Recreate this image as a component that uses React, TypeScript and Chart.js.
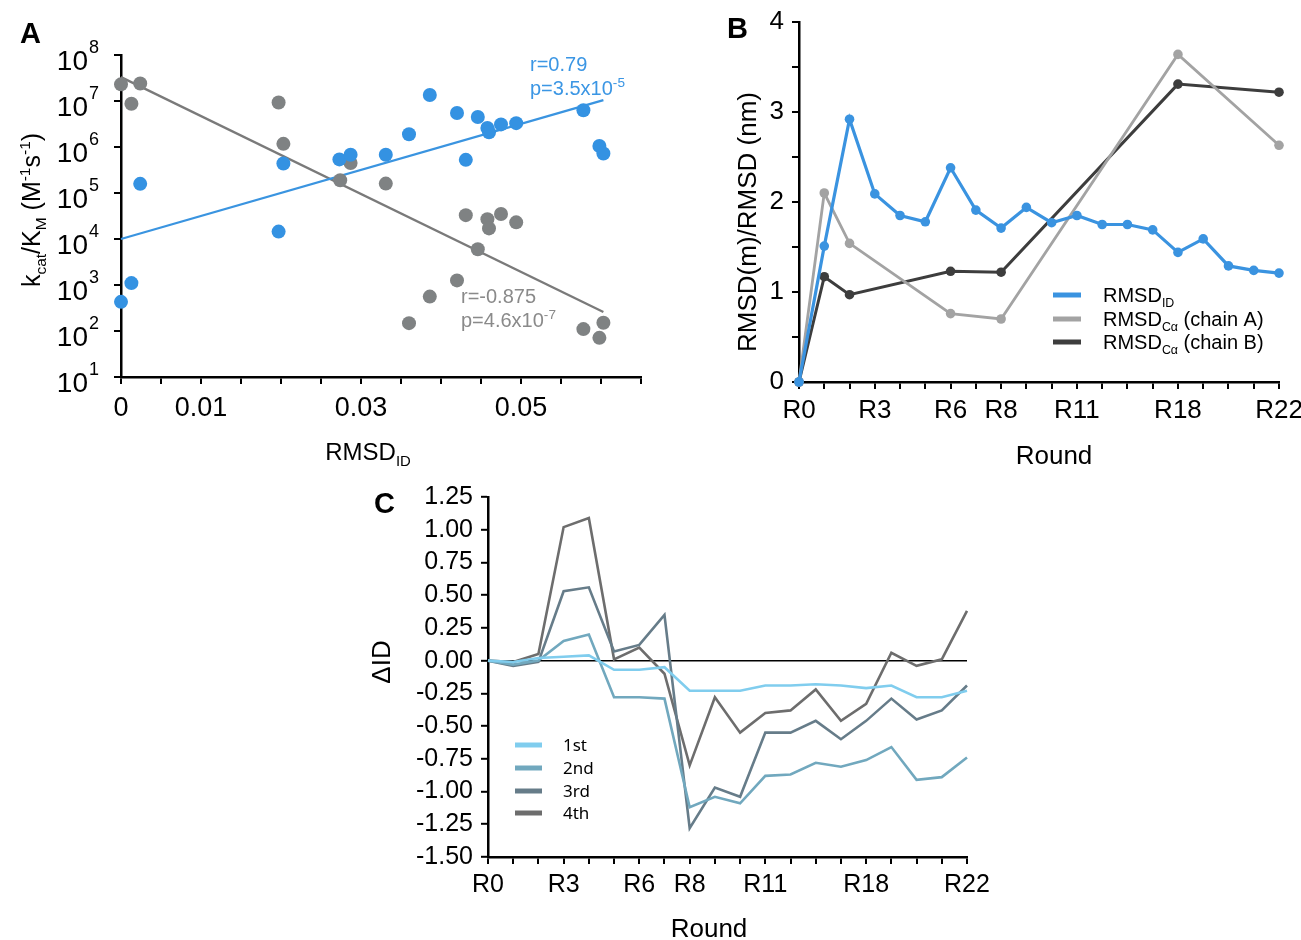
import React, { useEffect, useRef } from "react";
import { Chart, registerables } from "chart.js";
Chart.register(...registerables);

const PAGE_W = 1301;
const PAGE_H = 940;
const SANS = '"Liberation Sans", Arial, Helvetica, sans-serif';
const LEGEND_FONT = '"Noto Sans", "DejaVu Sans", sans-serif';

// ---------------- Panel A data ----------------
const aBlueX = [0, 0.0013, 0.0024, 0.0197, 0.0203, 0.0273, 0.0287, 0.0331, 0.036, 0.0386, 0.042, 0.0431, 0.0446, 0.0458, 0.046, 0.0475, 0.0494, 0.0578, 0.0598, 0.0603];
const aBlueY = [430, 1100, 158000, 14500, 437000, 537000, 676000, 676000, 1.9e6, 1.35e7, 5.5e6, 525000, 4.5e6, 2.6e6, 2.1e6, 3.1e6, 3.3e6, 6.3e6, 1.05e6, 7.2e5];
const aGrayX = [0, 0.0013, 0.0024, 0.0197, 0.0203, 0.0274, 0.0287, 0.0331, 0.036, 0.0386, 0.042, 0.0431, 0.0446, 0.0458, 0.046, 0.0475, 0.0494, 0.0578, 0.0598, 0.0603];
const aGrayY = [2.3e7, 8.7e6, 2.4e7, 9.3e6, 1.17e6, 1.9e5, 4.5e5, 1.6e5, 148, 560, 1260, 3.3e4, 6000, 2.7e4, 1.7e4, 3.5e4, 2.3e4, 110, 71, 151];
const aBlueFitX = [0, 0.0603];
const aBlueFitY = [1.0e4, 1.05e7];
const aGrayFitX = [0, 0.0603];
const aGrayFitY = [3.3e7, 2.6e2];
const aXTicks = [0, 0.005, 0.01, 0.015, 0.02, 0.025, 0.03, 0.035, 0.04, 0.045, 0.05, 0.055, 0.06, 0.065];
const aXLabelValues = [0, 0.01, 0.03, 0.05];
const aXLabelTexts = ["0", "0.01", "0.03", "0.05"];
const aYExponents = [1, 2, 3, 4, 5, 6, 7, 8];

// ---------------- Panel B data ----------------
const rounds = ["R0", "", "", "R3", "", "", "R6", "", "R8", "", "", "R11", "", "", "", "R18", "", "", "", "R22"];
const rmsdID = [0, 1.51, 2.92, 2.09, 1.85, 1.78, 2.38, 1.91, 1.71, 1.94, 1.77, 1.85, 1.75, 1.75, 1.69, 1.44, 1.59, 1.29, 1.24, 1.21];
const chainA = [0, 2.1, 1.54, null, null, null, 0.76, null, 0.7, null, null, null, null, null, null, 3.64, null, null, null, 2.63];
const chainB = [0, 1.17, 0.97, null, null, null, 1.23, null, 1.22, null, null, null, null, null, null, 3.31, null, null, null, 3.22];
const bYTicks = [0, 0.5, 1, 1.5, 2, 2.5, 3, 3.5, 4];

// ---------------- Panel C data ----------------
const first = [0, -0.01, 0.02, 0.03, 0.04, -0.07, -0.07, -0.05, -0.23, -0.23, -0.23, -0.19, -0.19, -0.18, -0.19, -0.21, -0.19, -0.28, -0.28, -0.23];
const second = [0, -0.03, 0.0, 0.15, 0.2, -0.28, -0.28, -0.29, -1.12, -1.04, -1.09, -0.88, -0.87, -0.78, -0.81, -0.76, -0.66, -0.91, -0.89, -0.74];
const third = [0, -0.04, -0.01, 0.53, 0.56, 0.07, 0.12, 0.35, -1.28, -0.97, -1.04, -0.55, -0.55, -0.46, -0.6, -0.46, -0.29, -0.45, -0.38, -0.19];
const fourth = [0, -0.01, 0.05, 1.02, 1.09, 0.01, 0.1, -0.1, -0.8, -0.28, -0.55, -0.4, -0.38, -0.22, -0.46, -0.33, 0.06, -0.04, 0.01, 0.38];
const cYTicks = [-1.5, -1.25, -1.0, -0.75, -0.5, -0.25, 0, 0.25, 0.5, 0.75, 1.0, 1.25];
const cSeriesNames = ["1st", "2nd", "3rd", "4th"];
const cColors = ["#80cdee", "#71a8be", "#667c89", "#6d6d6d"];

// ---------------- helpers ----------------
type Seg = { t: string; k?: "sub" | "sup" };

function richText(
  ctx: CanvasRenderingContext2D,
  segs: Seg[],
  x: number,
  y: number,
  size: number,
  color: string,
  align: "left" | "center" | "right" = "left",
  rot = 0,
  family = SANS,
  weight = "normal",
  smallRatio = 0.62
) {
  ctx.save();
  ctx.translate(x, y);
  ctx.rotate(rot);
  ctx.fillStyle = color;
  ctx.textBaseline = "alphabetic";
  ctx.textAlign = "left";
  const small = size * smallRatio;
  const widths = segs.map((s) => {
    ctx.font = `${weight} ${s.k ? small : size}px ${family}`;
    return ctx.measureText(s.t).width;
  });
  const total = widths.reduce((a, b) => a + b, 0);
  let cx = align === "center" ? -total / 2 : align === "right" ? -total : 0;
  segs.forEach((s, i) => {
    ctx.font = `${weight} ${s.k ? small : size}px ${family}`;
    const dy = s.k === "sub" ? size * 0.24 : s.k === "sup" ? -size * 0.42 : 0;
    ctx.fillText(s.t, cx, dy);
    cx += widths[i];
  });
  ctx.restore();
}

function fixSize(size: number) {
  return (scale: any) => {
    if (scale.isHorizontal()) scale.height = size;
    else scale.width = size;
    scale.paddingLeft = 0;
    scale.paddingRight = 0;
    scale.paddingTop = 0;
    scale.paddingBottom = 0;
  };
}

function axisLook(tickLen: number) {
  return {
    grid: {
      display: true,
      drawOnChartArea: false,
      drawTicks: true,
      tickLength: tickLen,
      color: "#000",
      tickColor: "#000",
      lineWidth: 2,
      tickWidth: 2,
    },
    border: { display: true, color: "#000", width: 2.5 },
  };
}

function basePadding(L: number, T: number, R: number, B: number, yW: number, xH: number) {
  return { left: L - yW, top: T, right: PAGE_W - R, bottom: PAGE_H - B - xH };
}

const commonOpts = {
  responsive: false,
  maintainAspectRatio: false,
  animation: false as const,
  devicePixelRatio: 1,
  events: [] as any[],
};

// ---------------- chart configs ----------------
function configA(): any {
  const L = 121, T = 55, R = 641, B = 377, YW = 60, XH = 50;
  const textPlugin = {
    id: "textA",
    afterDraw(chart: any) {
      const ctx = chart.ctx as CanvasRenderingContext2D;
      const ys = chart.scales.y;
      aYExponents.forEach((e) => {
        const py = ys.getPixelForValue(Math.pow(10, e));
        ctx.save();
        ctx.fillStyle = "#000";
        ctx.textBaseline = "alphabetic";
        ctx.font = `28px ${SANS}`;
        ctx.textAlign = "right";
        ctx.fillText("10", 88, py + 15);
        ctx.font = `18px ${SANS}`;
        ctx.textAlign = "left";
        ctx.fillText(String(e), 89, py - 2);
        ctx.restore();
      });
      richText(ctx, [{ t: "A" }], 20, 43, 29, "#000", "left", 0, SANS, "bold");
      richText(
        ctx,
        [
          { t: "k" },
          { t: "cat", k: "sub" },
          { t: "/K" },
          { t: "M", k: "sub" },
          { t: " (M" },
          { t: "-1", k: "sup" },
          { t: "s" },
          { t: "-1", k: "sup" },
          { t: ")" },
        ],
        40,
        210,
        25,
        "#000",
        "center",
        -Math.PI / 2
      );
      richText(ctx, [{ t: "RMSD" }, { t: "ID", k: "sub" }], 368, 460, 24, "#000", "center");
      const blue = "#3b96e4";
      const gray = "#8a8a8a";
      richText(ctx, [{ t: "r=0.79" }], 530, 71, 20, blue);
      richText(ctx, [{ t: "p=3.5x10" }, { t: "-5", k: "sup" }], 530, 95, 20, blue, "left", 0, SANS, "normal", 0.68);
      richText(ctx, [{ t: "r=-0.875" }], 461, 303, 20, gray);
      richText(ctx, [{ t: "p=4.6x10" }, { t: "-7", k: "sup" }], 461, 327, 20, gray, "left", 0, SANS, "normal", 0.68);
    },
  };
  return {
    type: "scatter",
    data: {
      datasets: [
        {
          label: "blue",
          data: aBlueX.map((x, i) => ({ x, y: aBlueY[i] })),
          backgroundColor: "#3492e2",
          borderWidth: 0,
          pointRadius: 7,
          clip: false,
        },
        {
          label: "gray",
          data: aGrayX.map((x, i) => ({ x, y: aGrayY[i] })),
          backgroundColor: "#7f8283",
          borderWidth: 0,
          pointRadius: 7,
          clip: false,
        },
        {
          label: "blueFit",
          data: aBlueFitX.map((x, i) => ({ x, y: aBlueFitY[i] })),
          showLine: true,
          borderColor: "#3a94e0",
          borderWidth: 2.3,
          pointRadius: 0,
          clip: false,
        },
        {
          label: "grayFit",
          data: aGrayFitX.map((x, i) => ({ x, y: aGrayFitY[i] })),
          showLine: true,
          borderColor: "#7a7a7a",
          borderWidth: 2.3,
          pointRadius: 0,
          clip: false,
        },
      ],
    },
    options: {
      ...commonOpts,
      layout: { padding: basePadding(L, T, R, B, YW, XH) },
      plugins: { legend: { display: false }, tooltip: { enabled: false } },
      scales: {
        x: {
          type: "linear",
          min: 0,
          max: 0.065,
          afterBuildTicks: (s: any) => {
            s.ticks = aXTicks.map((v) => ({ value: v }));
          },
          afterFit: fixSize(XH),
          ticks: {
            autoSkip: false,
            maxRotation: 0,
            padding: 8,
            color: "#000",
            font: { family: SANS, size: 27 },
            callback: (v: number) => {
              const i = aXLabelValues.findIndex((lv) => Math.abs(lv - v) < 1e-9);
              return i >= 0 ? aXLabelTexts[i] : "";
            },
          },
          ...axisLook(7),
        },
        y: {
          type: "logarithmic",
          min: 10,
          max: 1e8,
          afterBuildTicks: (s: any) => {
            s.ticks = aYExponents.map((e) => ({ value: Math.pow(10, e) }));
          },
          afterFit: fixSize(YW),
          ticks: { callback: () => "", autoSkip: false },
          ...axisLook(7),
        },
      },
    },
    plugins: [textPlugin],
  };
}

function configB(): any {
  const L = 799, T = 22, R = 1279, B = 382, YW = 50, XH = 50;
  const blue = "#3a93e0";
  const gA = "#a3a3a3";
  const gB = "#3d3d3d";
  const textPlugin = {
    id: "textB",
    afterDraw(chart: any) {
      const ctx = chart.ctx as CanvasRenderingContext2D;
      richText(ctx, [{ t: "B" }], 727, 38, 29, "#000", "left", 0, SANS, "bold");
      richText(ctx, [{ t: "RMSD(m)/RMSD (nm)" }], 756, 222, 26, "#000", "center", -Math.PI / 2);
      richText(ctx, [{ t: "Round" }], 1054, 464, 26, "#000", "center");
      const rows: { c: string; segs: Seg[]; y: number }[] = [
        { c: blue, segs: [{ t: "RMSD" }, { t: "ID", k: "sub" }], y: 295 },
        { c: gA, segs: [{ t: "RMSD" }, { t: "Cα", k: "sub" }, { t: " (chain A)" }], y: 319 },
        { c: gB, segs: [{ t: "RMSD" }, { t: "Cα", k: "sub" }, { t: " (chain B)" }], y: 342 },
      ];
      rows.forEach((r) => {
        ctx.save();
        ctx.strokeStyle = r.c;
        ctx.lineWidth = 5;
        ctx.beginPath();
        ctx.moveTo(1053, r.y);
        ctx.lineTo(1081, r.y);
        ctx.stroke();
        ctx.restore();
        richText(ctx, r.segs, 1103, r.y + 7, 20, "#000");
      });
    },
  };
  return {
    type: "line",
    data: {
      labels: rounds,
      datasets: [
        {
          label: "RMSD_ID",
          data: rmsdID,
          borderColor: blue,
          backgroundColor: blue,
          borderWidth: 3.2,
          pointRadius: 4.8,
          pointBorderWidth: 0,
          clip: false,
        },
        {
          label: "chainA",
          data: chainA,
          spanGaps: true,
          borderColor: gA,
          backgroundColor: gA,
          borderWidth: 2.8,
          pointRadius: 4.8,
          pointBorderWidth: 0,
          clip: false,
        },
        {
          label: "chainB",
          data: chainB,
          spanGaps: true,
          borderColor: gB,
          backgroundColor: gB,
          borderWidth: 3,
          pointRadius: 4.8,
          pointBorderWidth: 0,
          clip: false,
        },
      ],
    },
    options: {
      ...commonOpts,
      layout: { padding: basePadding(L, T, R, B, YW, XH) },
      plugins: { legend: { display: false }, tooltip: { enabled: false } },
      scales: {
        x: {
          type: "category",
          offset: false,
          afterFit: fixSize(XH),
          ticks: {
            autoSkip: false,
            maxRotation: 0,
            padding: 6,
            color: "#000",
            font: { family: SANS, size: 26 },
          },
          ...axisLook(7),
        },
        y: {
          type: "linear",
          min: 0,
          max: 4,
          afterBuildTicks: (s: any) => {
            s.ticks = bYTicks.map((v) => ({ value: v }));
          },
          afterFit: fixSize(YW),
          ticks: {
            autoSkip: false,
            padding: 8,
            color: "#000",
            font: { family: SANS, size: 26 },
            callback: (v: number) => (Number.isInteger(v) ? String(v) : ""),
          },
          ...axisLook(7),
        },
      },
    },
    plugins: [textPlugin],
  };
}

function configC(): any {
  const L = 488, T = 497, R = 967, B = 857, YW = 80, XH = 50;
  const textPlugin = {
    id: "textC",
    afterDraw(chart: any) {
      const ctx = chart.ctx as CanvasRenderingContext2D;
      richText(ctx, [{ t: "C" }], 374, 513, 29, "#000", "left", 0, SANS, "bold");
      richText(ctx, [{ t: "ΔID" }], 390, 662, 26, "#000", "center", -Math.PI / 2);
      richText(ctx, [{ t: "Round" }], 709, 937, 26, "#000", "center");
      const ys = [745, 768, 791, 813];
      cSeriesNames.forEach((n, i) => {
        ctx.save();
        ctx.strokeStyle = cColors[i];
        ctx.lineWidth = 5;
        ctx.beginPath();
        ctx.moveTo(515, ys[i]);
        ctx.lineTo(542, ys[i]);
        ctx.stroke();
        ctx.restore();
        richText(ctx, [{ t: n }], 563, ys[i] + 6, 17, "#000", "left", 0, LEGEND_FONT);
      });
    },
  };
  const series = [first, second, third, fourth];
  return {
    type: "line",
    data: {
      labels: rounds,
      datasets: series.map((d, i) => ({
        label: cSeriesNames[i],
        data: d,
        borderColor: cColors[i],
        backgroundColor: cColors[i],
        borderWidth: 2.6,
        pointRadius: 0,
        clip: false,
      })),
    },
    options: {
      ...commonOpts,
      layout: { padding: basePadding(L, T, R, B, YW, XH) },
      plugins: { legend: { display: false }, tooltip: { enabled: false } },
      scales: {
        x: {
          type: "category",
          offset: false,
          afterFit: fixSize(XH),
          ticks: {
            autoSkip: false,
            maxRotation: 0,
            padding: 6,
            color: "#000",
            font: { family: SANS, size: 25 },
          },
          ...axisLook(7),
        },
        y: {
          type: "linear",
          min: -1.5,
          max: 1.25,
          afterBuildTicks: (s: any) => {
            s.ticks = cYTicks.map((v) => ({ value: v }));
          },
          afterFit: fixSize(YW),
          ticks: {
            autoSkip: false,
            padding: 8,
            color: "#000",
            font: { family: SANS, size: 25 },
            callback: (v: number) => v.toFixed(2),
          },
          grid: {
            display: true,
            drawOnChartArea: true,
            drawTicks: true,
            tickLength: 7,
            color: (c: any) => (c.tick && Math.abs(c.tick.value) < 1e-9 ? "#000" : "rgba(0,0,0,0)"),
            tickColor: "#000",
            lineWidth: 1.6,
            tickWidth: 2,
          },
          border: { display: true, color: "#000", width: 2.5 },
        },
      },
    },
    plugins: [textPlugin],
  };
}

export default function App() {
  const refA = useRef<HTMLCanvasElement>(null);
  const refB = useRef<HTMLCanvasElement>(null);
  const refC = useRef<HTMLCanvasElement>(null);

  useEffect(() => {
    const charts: Chart[] = [];
    if (refA.current) charts.push(new Chart(refA.current, configA()));
    if (refB.current) charts.push(new Chart(refB.current, configB()));
    if (refC.current) charts.push(new Chart(refC.current, configC()));
    return () => charts.forEach((c) => c.destroy());
  }, []);

  const canvasStyle: React.CSSProperties = {
    position: "absolute",
    left: 0,
    top: 0,
    width: PAGE_W,
    height: PAGE_H,
  };

  return (
    <div
      style={{
        position: "absolute",
        left: 0,
        top: 0,
        width: PAGE_W,
        height: PAGE_H,
        background: "#fff",
        overflow: "hidden",
      }}
    >
      <canvas ref={refA} width={PAGE_W} height={PAGE_H} style={canvasStyle} />
      <canvas ref={refB} width={PAGE_W} height={PAGE_H} style={canvasStyle} />
      <canvas ref={refC} width={PAGE_W} height={PAGE_H} style={canvasStyle} />
    </div>
  );
}
